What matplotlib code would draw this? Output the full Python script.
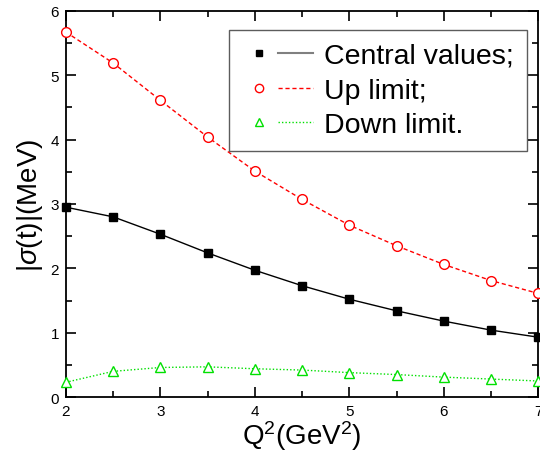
import matplotlib
matplotlib.use("Agg")
import matplotlib.pyplot as plt
from matplotlib.lines import Line2D
from matplotlib.legend_handler import HandlerTuple
from matplotlib.ticker import MultipleLocator

plt.rcParams['font.family'] = ['Liberation Sans', 'DejaVu Sans']
plt.rcParams['mathtext.fontset'] = 'custom'
plt.rcParams['mathtext.it'] = 'Liberation Sans:italic'
plt.rcParams['mathtext.rm'] = 'Liberation Sans'

q2 = [2.0, 2.5, 3.0, 3.5, 4.0, 4.5, 5.0, 5.5, 6.0, 6.5, 7.0]
central = [2.95, 2.80, 2.53, 2.24, 1.97, 1.73, 1.52, 1.34, 1.18, 1.04, 0.93]
up = [5.67, 5.19, 4.61, 4.04, 3.51, 3.07, 2.67, 2.35, 2.06, 1.81, 1.61]
down = [0.23, 0.40, 0.46, 0.47, 0.44, 0.42, 0.38, 0.35, 0.31, 0.28, 0.25]
labels = ['Central values;', 'Up limit;', 'Down limit.']

fig = plt.figure(figsize=(5.4, 4.56), dpi=100)
ax = fig.add_axes([0.122, 0.127, 0.875, 0.847])

ax.plot(q2, central, color='black', lw=1.0, ls='-', marker='s', ms=6,
        mfc='black', mec='black', clip_on=False, zorder=3)
ax.plot(q2, up, color='red', lw=1.0, ls=(0, (3, 2)), marker='o', ms=7,
        mfc='white', mec='red', clip_on=False, zorder=3)
ax.plot(q2, down, color='#00e000', lw=1.0, ls=(0, (1, 1.5)), marker='^', ms=7,
        mfc='white', mec='#00e000', clip_on=False, zorder=3)

ax.set_xlim(2, 7)
ax.set_ylim(0, 6)
ax.xaxis.set_major_locator(MultipleLocator(1))
ax.xaxis.set_minor_locator(MultipleLocator(0.5))
ax.yaxis.set_major_locator(MultipleLocator(1))
ax.yaxis.set_minor_locator(MultipleLocator(0.5))
ax.tick_params(which='both', direction='in', top=True, right=True, labelsize=11, width=1.2)
ax.tick_params(which='major', length=7, pad=5)
ax.tick_params(which='minor', length=4)
for s in ax.spines.values():
    s.set_linewidth(1.3)

ax.set_xlabel(r'Q$^2$(GeV$^2$)', fontsize=20, labelpad=0)
ax.set_ylabel(r'|$\sigma$(t)|(MeV)', fontsize=20, labelpad=4)

h_c = (Line2D([], [], ls='none', marker='s', ms=5, mfc='black', mec='black'),
       Line2D([], [], color='gray', lw=1.5))
h_u = (Line2D([], [], ls='none', marker='o', ms=6, mfc='white', mec='red'),
       Line2D([], [], color='red', lw=1.0, ls=(0, (3, 2))))
h_d = (Line2D([], [], ls='none', marker='^', ms=6, mfc='white', mec='#00e000'),
       Line2D([], [], color='#00e000', lw=1.0, ls=(0, (1, 1.5))))
leg = ax.legend([h_c, h_u, h_d], labels,
                handler_map={tuple: HandlerTuple(ndivide=None, pad=0.1)},
                loc='upper right', bbox_to_anchor=(0.975, 0.95),
                fontsize=20.5, frameon=True, fancybox=False, edgecolor='#333333',
                handlelength=2.5, handletextpad=0.4, borderpad=0.45,
                labelspacing=0.3, borderaxespad=0)
leg.get_frame().set_linewidth(1.0)

fig.savefig('out.png', dpi=100)
